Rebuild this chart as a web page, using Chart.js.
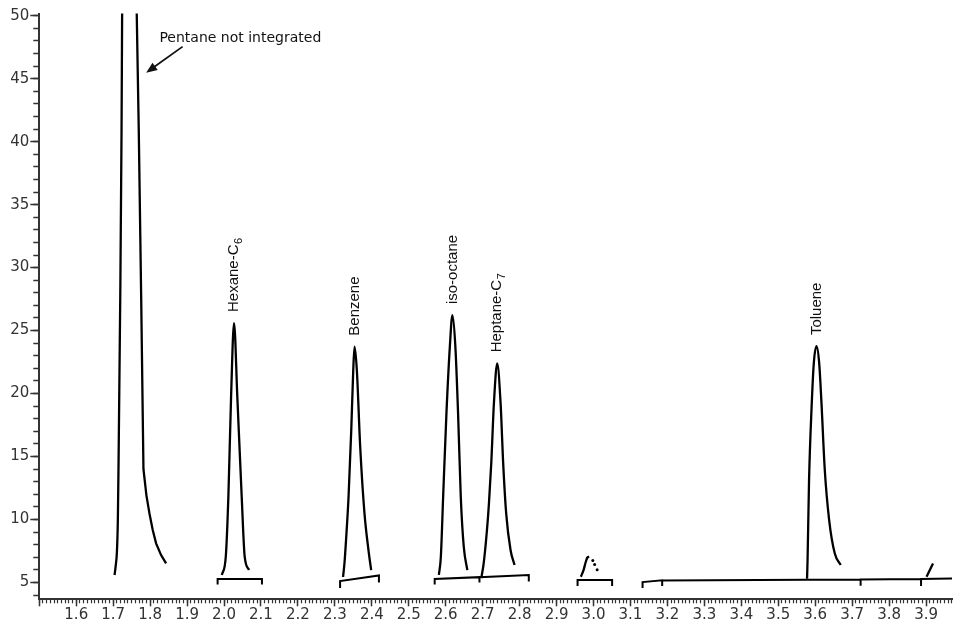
<!DOCTYPE html>
<html>
<head>
<meta charset="utf-8">
<title>Chromatogram</title>
<script src="https://cdn.jsdelivr.net/npm/chart.js@4.4.1/dist/chart.umd.min.js"></script>
<style>
  html, body { margin: 0; padding: 0; background: #fff; }
  #wrap { width: 956px; height: 622px; }
</style>
</head>
<body>
<div id="wrap"><canvas id="chromatogram" width="956" height="622"></canvas></div>
<script>
// trace pieces: [retention time (min), response]
const pentaneRise = [[1.7037, 5.6], [1.7070, 6.39], [1.7099, 7.34], [1.7126, 9.96], [1.7145, 14.49], [1.7191, 27.67], [1.7226, 40.92], [1.7243, 51]];
const pentaneTail = [[1.7632, 51], [1.7692, 40.9], [1.7757, 27.7], [1.7819, 14.0], [1.7900, 11.9], [1.7981, 10.49], [1.8070, 9.17], [1.8161, 8.11], [1.8296, 7.18], [1.8431, 6.52]];
const hexane = [[1.9940, 5.6], [2.0047, 7.05], [2.0117, 11.8], [2.0190, 19.7], [2.0271, 25.6], [2.0360, 19.7], [2.0478, 11.8], [2.0559, 7.05], [2.0675, 6.0]];
const benzene = [[2.3221, 5.44], [2.3262, 6.63], [2.3302, 8.37], [2.3370, 11.81], [2.3443, 17.1], [2.3497, 21.87], [2.3532, 23.72], [2.3594, 21.87], [2.3685, 15.78], [2.3801, 10.49], [2.3909, 7.58], [2.3982, 5.99]];
const isoOctane = [[2.5814, 5.6], [2.5868, 7.05], [2.5930, 11.81], [2.6019, 18.43], [2.6111, 23.71], [2.6181, 26.23], [2.6261, 23.71], [2.6334, 18.43], [2.6407, 11.81], [2.6488, 7.84], [2.6585, 5.99]];
const heptane = [[2.6962, 5.36], [2.7027, 6.52], [2.7116, 9.17], [2.7170, 11.31], [2.7232, 14.46], [2.7304, 19.22], [2.7393, 22.4], [2.7485, 19.22], [2.7555, 14.46], [2.7636, 10.49], [2.7754, 7.58], [2.7862, 6.39]];
const smallPeak = [[2.9657, 5.46], [2.9730, 5.99], [2.9791, 6.65], [2.9837, 7.0], [2.9883, 7.05]];
const smallPeakDots = [[2.9980, 6.75], [3.0030, 6.43], [3.0098, 6.02]];
const toluene = [[3.5779, 5.3], [3.5793, 6.79], [3.5833, 13.13], [3.5901, 18.85], [3.5962, 22.42], [3.6035, 23.77], [3.6108, 22.4], [3.6170, 19.22], [3.6259, 13.93], [3.6377, 9.96], [3.6528, 7.32], [3.6690, 6.39]];
const lateBlip = [[3.9013, 5.46], [3.9188, 6.52]];

// integration baselines with their end markers
const hexaneBase = [[1.9826, 4.84], [1.9826, 5.28], [2.1026, 5.28], [2.1026, 4.84]];
const benzeneBase = [[2.3141, 4.56], [2.3141, 5.12], [2.4192, 5.56], [2.4192, 5.0]];
const isoHeptBase = [[2.5701, 4.84], [2.5701, 5.28], [2.6913, 5.43], [2.6913, 5.0], [2.6913, 5.43], [2.8248, 5.6], [2.8248, 5.08]];
const smallBase = [[2.9568, 4.72], [2.9568, 5.2], [3.0503, 5.2], [3.0503, 4.72]];
const lateBase = [[3.1327, 4.56], [3.1327, 5.04], [3.1858, 5.18], [3.1858, 4.72], [3.1858, 5.16], [3.5779, 5.22], [3.7229, 5.25], [3.7229, 4.75], [3.7229, 5.25], [3.8864, 5.29], [3.8864, 4.72], [3.8864, 5.29], [3.9702, 5.33]];

const labelledPeaks = [hexane, benzene, isoOctane, heptane, toluene];
const peakNames = ["Hexane-C", "Benzene", "iso-octane", "Heptane-C", "Toluene"];
const peakSubscripts = ["6", "", "", "7", ""];

const xRange = [1.5, 3.9702];
const yRange = [3.67, 50.17];

const note = { text: "Pentane not integrated", at: [1.825, 47.93], from: [1.8878, 47.54], to: [1.7892, 45.47] };

function trace(points, extra) {
  return Object.assign({
    data: points.map(p => ({ x: p[0], y: p[1] })),
    borderColor: "#000",
    borderWidth: 2.3,
    pointRadius: 0,
    fill: false,
    xAxisID: "x",
    yAxisID: "y"
  }, extra || {});
}

const smooth = { cubicInterpolationMode: "monotone" };

const annotations = {
  id: "annotations",
  afterDatasetsDraw(chart) {
    const ctx = chart.ctx;
    const xs = chart.scales.x;
    const ys = chart.scales.y;
    ctx.save();
    ctx.fillStyle = "#111";
    labelledPeaks.forEach(function (peak, i) {
      let top = peak[0];
      peak.forEach(p => { if (p[1] > top[1]) top = p; });
      ctx.save();
      ctx.translate(xs.getPixelForValue(top[0]), ys.getPixelForValue(top[1]) - 11);
      ctx.rotate(-Math.PI / 2);
      ctx.font = '15px "Liberation Sans", Arial, sans-serif';
      ctx.textAlign = "left";
      ctx.textBaseline = "middle";
      ctx.fillText(peakNames[i], 0, 0);
      if (peakSubscripts[i]) {
        const w = ctx.measureText(peakNames[i]).width;
        ctx.font = '11px "Liberation Sans", Arial, sans-serif';
        ctx.fillText(peakSubscripts[i], w + 0.5, 4.5);
      }
      ctx.restore();
    });

    ctx.font = '14px "DejaVu Sans", sans-serif';
    ctx.textAlign = "left";
    ctx.textBaseline = "alphabetic";
    ctx.fillText(note.text, xs.getPixelForValue(note.at[0]), ys.getPixelForValue(note.at[1]));

    const x1 = xs.getPixelForValue(note.from[0]), y1 = ys.getPixelForValue(note.from[1]);
    const x2 = xs.getPixelForValue(note.to[0]), y2 = ys.getPixelForValue(note.to[1]);
    const a = Math.atan2(y2 - y1, x2 - x1);
    ctx.strokeStyle = "#111";
    ctx.lineWidth = 1.8;
    ctx.beginPath();
    ctx.moveTo(x1, y1);
    ctx.lineTo(x2 - 8 * Math.cos(a), y2 - 8 * Math.sin(a));
    ctx.stroke();
    ctx.beginPath();
    ctx.moveTo(x2, y2);
    ctx.lineTo(x2 - 11 * Math.cos(a) + 4.5 * Math.sin(a), y2 - 11 * Math.sin(a) - 4.5 * Math.cos(a));
    ctx.lineTo(x2 - 11 * Math.cos(a) - 4.5 * Math.sin(a), y2 - 11 * Math.sin(a) + 4.5 * Math.cos(a));
    ctx.closePath();
    ctx.fill();
    ctx.restore();
  }
};

Chart.defaults.font.family = '"DejaVu Sans", sans-serif';
Chart.defaults.font.size = 15;
Chart.defaults.color = "#333";

new Chart(document.getElementById("chromatogram"), {
  type: "line",
  data: {
    datasets: [
      trace(pentaneRise, smooth),
      trace(pentaneTail),
      trace(hexane, smooth),
      trace(benzene, smooth),
      trace(isoOctane, smooth),
      trace(heptane, smooth),
      trace(smallPeak, smooth),
      trace(smallPeakDots, { showLine: false, pointRadius: 1.5, pointBackgroundColor: "#000", pointBorderWidth: 0 }),
      trace(toluene, smooth),
      trace(lateBlip),
      trace(hexaneBase, { borderWidth: 2 }),
      trace(benzeneBase, { borderWidth: 2 }),
      trace(isoHeptBase, { borderWidth: 2 }),
      trace(smallBase, { borderWidth: 2 }),
      trace(lateBase, { borderWidth: 2 })
    ]
  },
  options: {
    responsive: false,
    animation: false,
    events: [],
    layout: { padding: { top: 13.5, right: 0, left: 0, bottom: 0 } },
    plugins: { legend: { display: false }, tooltip: { enabled: false } },
    scales: {
      x: {
        type: "linear", position: "bottom", weight: 1,
        min: xRange[0], max: xRange[1],
        ticks: {
          stepSize: 0.1, autoSkip: false, maxRotation: 0, includeBounds: false, padding: 0,
          callback: v => (v < 1.55 ? "" : v.toFixed(1))
        },
        grid: { drawOnChartArea: false, tickLength: 7, tickColor: "#333", tickWidth: 1.5 },
        border: { color: "#333", width: 2 },
        afterFit: s => { s.height = 22.7; }
      },
      xMinor: {
        type: "linear", position: "bottom", weight: 0,
        min: xRange[0], max: xRange[1],
        ticks: { display: false, stepSize: 0.01, autoSkip: false, includeBounds: false },
        grid: { drawOnChartArea: false, tickLength: 4, tickColor: "#333", tickWidth: 1.2 },
        border: { display: false },
        afterFit: s => { s.height = 0; }
      },
      y: {
        type: "linear", position: "left", weight: 1,
        min: yRange[0], max: yRange[1],
        ticks: { stepSize: 5, includeBounds: false, padding: 1 },
        grid: { drawOnChartArea: false, tickLength: 9, tickColor: "#333", tickWidth: 1.5 },
        border: { color: "#333", width: 2 },
        afterFit: s => { s.width = 39.3; }
      },
      yMinor: {
        type: "linear", position: "left", weight: 0,
        min: yRange[0], max: yRange[1],
        ticks: { display: false, stepSize: 1, includeBounds: false },
        grid: { drawOnChartArea: false, tickLength: 6, tickColor: "#333", tickWidth: 1.5 },
        border: { display: false },
        afterFit: s => { s.width = 0; }
      }
    }
  },
  plugins: [annotations]
});
</script>
</body>
</html>
